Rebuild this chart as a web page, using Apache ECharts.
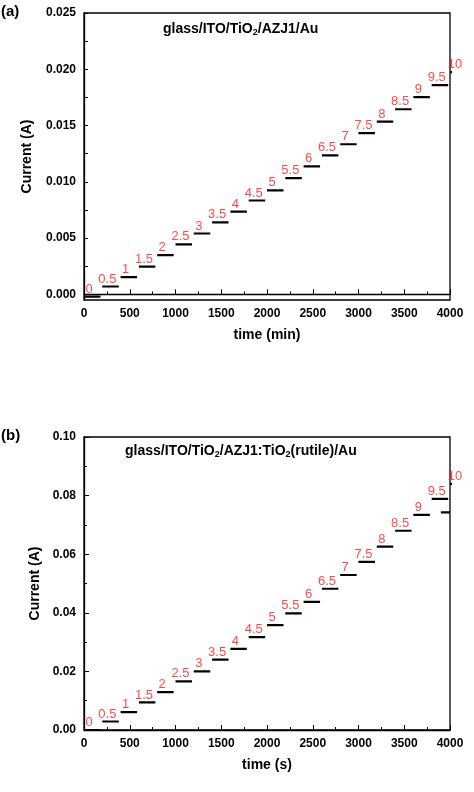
<!DOCTYPE html>
<html><head><meta charset="utf-8">
<script src="https://cdn.jsdelivr.net/npm/echarts@6/dist/echarts.min.js"></script>
<style>html,body{margin:0;background:#fff}#c{width:474px;height:792px}</style>
</head><body><div id="c"></div>
<script>
// step labels (bias) and measured current levels
const stepLabels = ['0','0.5','1','1.5','2','2.5','3','3.5','4','4.5','5','5.5','6','6.5','7','7.5','8','8.5','9','9.5','10'];
const levelsA = [-0.0002,0.0007,0.00154,0.00247,0.00349,0.00445,0.00541,0.0064,0.00735,0.00834,0.00924,
  0.01032,0.01137,0.01235,0.01334,0.01433,0.01535,0.01645,0.01753,0.0186,0.01975];
const levelsB = [0,0.0029,0.0061,0.0094,0.0129,0.0166,0.02,0.024,0.0277,0.0317,0.0358,
  0.0398,0.0437,0.0482,0.0529,0.0574,0.0626,0.068,0.0734,0.0789,0.084];
const ticksA = [0,0.005,0.01,0.015,0.02,0.025];
const minorTicksA = [0,0.0025,0.005,0.0075,0.01,0.0125,0.015,0.0175,0.02,0.0225,0.025];
const stepStart = stepLabels.map((s,i)=>i*200);
const stepLen = 180;
const tailB = [[3900,0.0743],[4000,0.0743]];

function segs(levels, tail){
  const d=[];
  levels.forEach((v,i)=>{ d.push([stepStart[i],v]); d.push([stepStart[i]+stepLen,v]); d.push([null,null]); });
  if(tail){ d.push(tail[0]); d.push(tail[1]); }
  return d;
}
function labs(levels){
  return levels.map((v,i)=>({value:[stepStart[i]+55,v], label:{formatter:stepLabels[i]}}));
}
const F='Liberation Sans, Arial, sans-serif';
const nameStyle={fontFamily:F,fontWeight:'bold',fontSize:14,color:'#000'};
const labStyleAx={fontFamily:F,fontWeight:'bold',fontSize:12,color:'#000'};
function xAx(gi,name){return {gridIndex:gi,type:'value',min:0,max:4000,interval:500,
  name:name,nameLocation:'middle',nameGap:28,nameTextStyle:nameStyle,
  axisLine:{lineStyle:{color:'#000',width:1.3}},axisTick:{inside:true,length:5,lineStyle:{color:'#000'}},
  minorTick:{show:true,splitNumber:2,length:3,lineStyle:{color:'#000'}},
  axisLabel:Object.assign({formatter:v=>String(v)},labStyleAx),splitLine:{show:false}};}
const chart=echarts.init(document.getElementById('c'));
chart.setOption({
  animation:false,
  grid:[{left:84,right:24,top:13,height:287,show:true,borderColor:'#000',borderWidth:1.3},
        {left:84,right:24,top:437,height:293,show:true,borderColor:'#000',borderWidth:1.3}],
  xAxis:[xAx(0,'time (min)'),xAx(1,'time (s)')],
  yAxis:[
    {gridIndex:0,type:'value',min:-0.0005,max:0.025,
     name:'Current (A)',nameLocation:'middle',nameGap:50,nameTextStyle:nameStyle,
     axisLine:{onZero:false,lineStyle:{color:'#000',width:1.3}},
     axisTick:{inside:true,length:4,customValues:minorTicksA,lineStyle:{color:'#000'}},
     axisLabel:Object.assign({customValues:ticksA,formatter:v=>v.toFixed(3)},labStyleAx),splitLine:{show:false}},
    {gridIndex:1,type:'value',min:0,max:0.1,interval:0.02,
     name:'Current (A)',nameLocation:'middle',nameGap:42,nameTextStyle:nameStyle,
     axisLine:{onZero:false,lineStyle:{color:'#000',width:1.3}},axisTick:{inside:true,length:5,lineStyle:{color:'#000'}},
     minorTick:{show:true,splitNumber:2,length:3,lineStyle:{color:'#000'}},
     axisLabel:Object.assign({formatter:v=>v.toFixed(2)},labStyleAx),splitLine:{show:false}}
  ],
  series:[
    {type:'line',xAxisIndex:0,yAxisIndex:0,data:segs(levelsA),symbol:'none',clip:false,lineStyle:{color:'#000',width:2.2}},
    {type:'scatter',xAxisIndex:0,yAxisIndex:0,data:labs(levelsA),symbolSize:0,clip:false,
     label:{show:true,position:'top',distance:1,color:'#ff1a1a',fontFamily:F,fontSize:13}},
    {type:'line',xAxisIndex:1,yAxisIndex:1,data:segs(levelsB,tailB),symbol:'none',clip:false,lineStyle:{color:'#000',width:2.2}},
    {type:'scatter',xAxisIndex:1,yAxisIndex:1,data:labs(levelsB),symbolSize:0,clip:false,
     label:{show:true,position:'top',distance:1,color:'#ff1a1a',fontFamily:F,fontSize:13}}
  ],
  graphic:[
    {type:'text',left:1,top:4,style:{text:'(a)',font:'bold 15px '+F,fill:'#000'}},
    {type:'text',left:1,top:428,style:{text:'(b)',font:'bold 15px '+F,fill:'#000'}},
    {type:'text',left:163,top:22,style:{text:'{n|glass/ITO/TiO}{s|2}{n|/AZJ1/Au}',
      rich:{n:{font:'bold 14px '+F,fill:'#000'},s:{font:'bold 9px '+F,fill:'#000',padding:[8,0,0,0]}}}},
    {type:'text',left:125,top:444,style:{text:'{n|glass/ITO/TiO}{s|2}{n|/AZJ1:TiO}{s|2}{n|(rutile)/Au}',
      rich:{n:{font:'bold 14px '+F,fill:'#000'},s:{font:'bold 9px '+F,fill:'#000',padding:[8,0,0,0]}}}}
  ]
});
</script></body></html>
